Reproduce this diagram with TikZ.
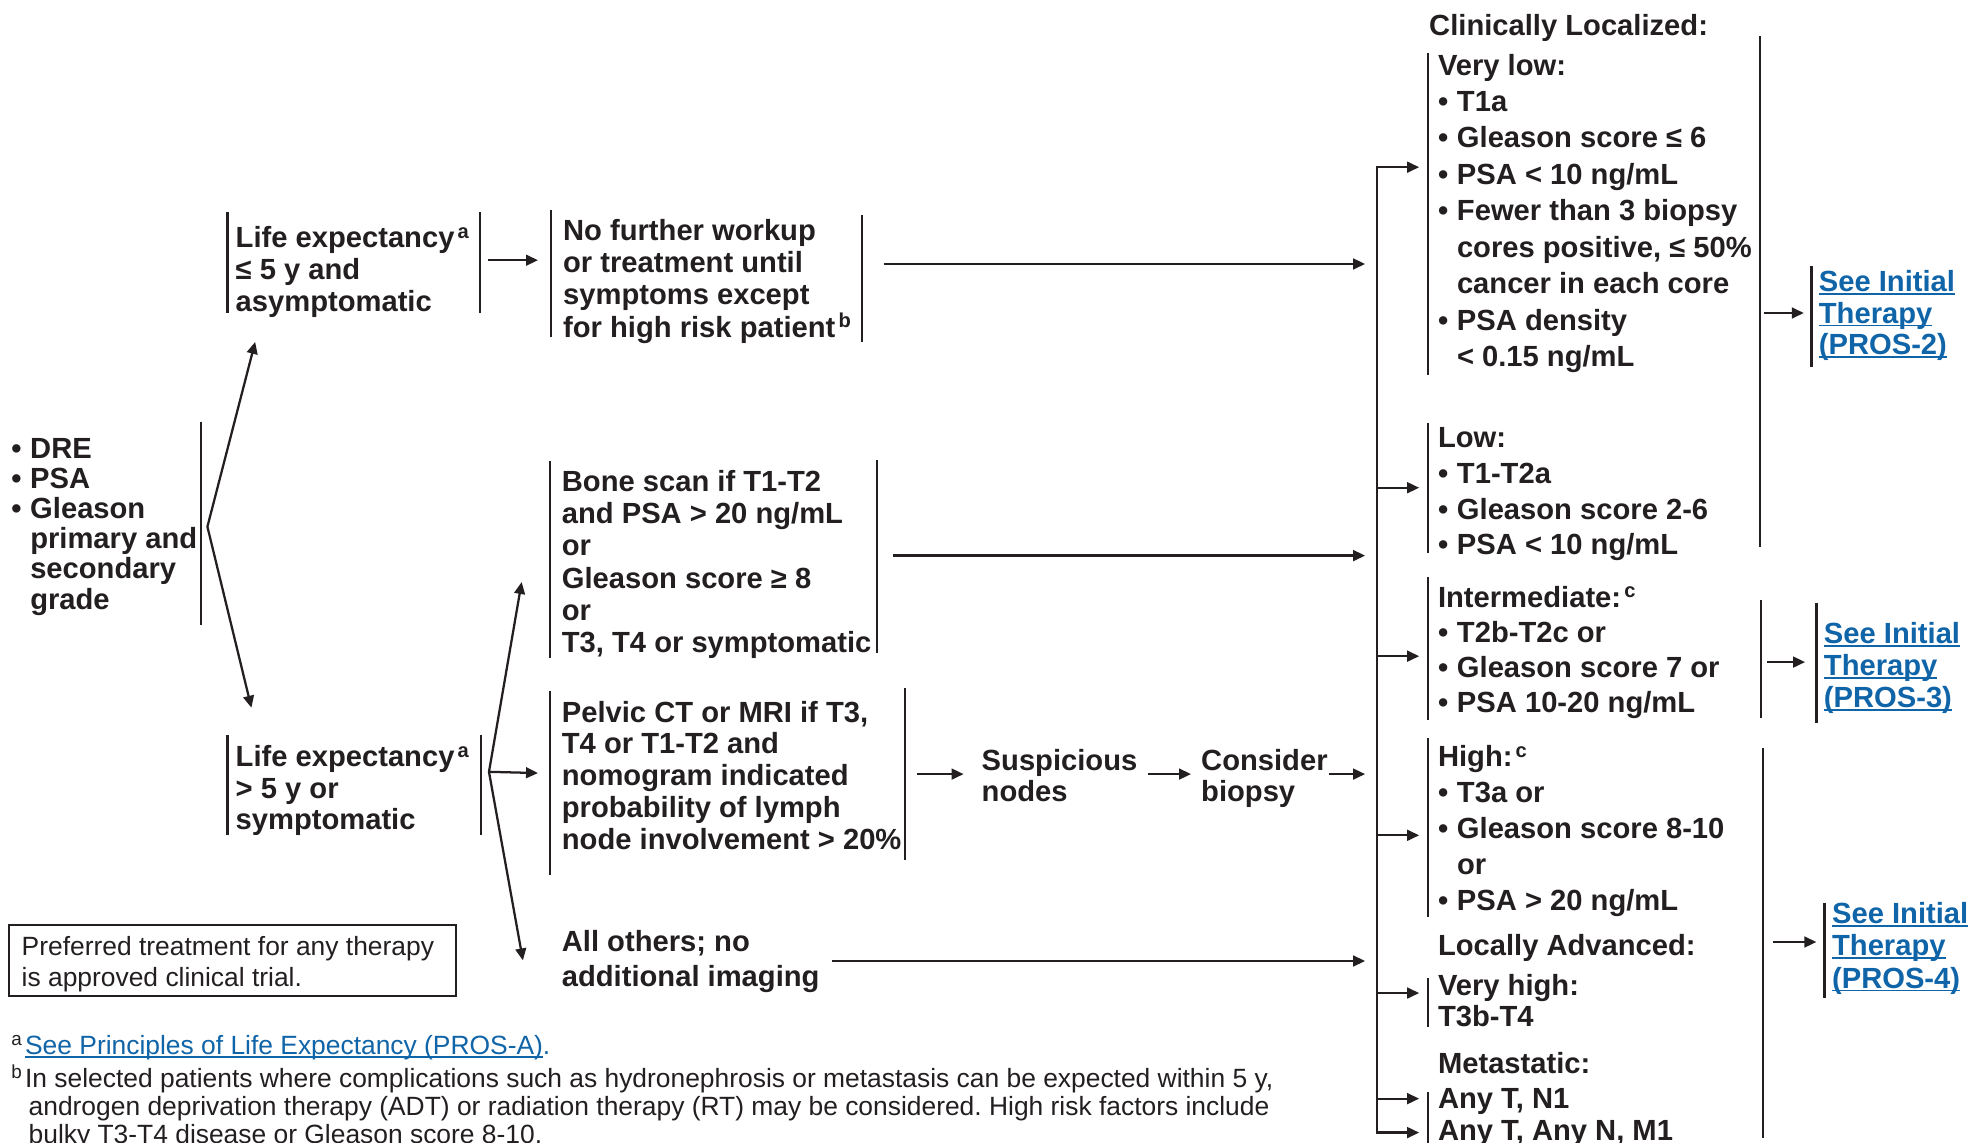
\documentclass[tikz,border=0pt]{standalone}
\usepackage{fontspec}
\setmainfont{Liberation Sans}
\usetikzlibrary{arrows.meta}
\definecolor{ink}{HTML}{231F20}
\definecolor{linkblue}{HTML}{1064A8}
\frenchspacing
\newcommand\mlines[1]{\begin{tabular}[t]{@{}l@{}}#1\end{tabular}}
\newcommand\bul{\makebox[0.65em][l]{•}}
\newcommand\indt{\hspace*{0.65em}}
\newcommand\supa[1]{\hspace{2.5bp}\smash{\raisebox{7.5bp}{\fontsize{16bp}{16bp}\selectfont #1}}}
\newcommand\supf[1]{\makebox[11bp][l]{\raisebox{7bp}{\fontsize{15bp}{15bp}\selectfont #1}}}
\newcommand\lnk[1]{{\setbox0\hbox{#1}\rlap{\rule[-2.6bp]{\wd0}{1.4bp}}\box0}}
\newcommand\fL{\fontsize{23.2bp}{25.5bp}\selectfont\bfseries}
\newcommand\fR{\fontsize{23.2bp}{28.7bp}\selectfont\bfseries}
\newcommand\fN{\fontsize{21bp}{22.5bp}\selectfont\mdseries}
\begin{document}
\begin{tikzpicture}[x=1bp,y=-1bp,
  txt/.style={inner sep=0pt, outer sep=0pt, anchor=base west, text=ink, font=\fL},
  rtxt/.style={txt, font=\fR},
  note/.style={txt, font=\fN},
  link/.style={txt, text=linkblue},
  bar/.style={draw=ink, line width=1.8bp},
  arr/.style={draw=ink, line width=1.8bp, -{Triangle[length=9.5bp,width=8.5bp]}},
  arr2/.style={draw=ink, line width=1.8bp, {Triangle[length=9.5bp,width=8.5bp]}-{Triangle[length=9.5bp,width=8.5bp]}}
]
\path[use as bounding box, fill=white] (0,0) rectangle (1568,909);

% ---------- left column ----------
\node[txt] (dre) at (9,364.5) {\fontsize{23.2bp}{24bp}\selectfont\mlines{\bul DRE\\\bul PSA\\\bul Gleason\\\indt primary and\\\indt secondary\\\indt grade}};
\draw[bar] (160,335.5) -- (160,497);
\coordinate (v1) at (165,419);
\coordinate (le1in) at (203,272);
\coordinate (le2in) at (200,563);
\draw[arr2] (le1in) -- (v1) -- (le2in);

% top life expectancy
\node[txt] (le1) at (187.5,197) {\mlines{Life expectancy\supa{a}\\≤ 5 y and\\asymptomatic}};
\draw[bar] (181,168.4) -- (181,249);
\draw[bar] (382,168.4) -- (382,249);
\coordinate (a1s) at (388,207); \coordinate (a1e) at (428,207);
\draw[arr] (a1s) -- (a1e);

\node[txt] (nf) at (448,191) {\fontsize{23.2bp}{25.7bp}\selectfont\mlines{No further workup\\or treatment until\\symptoms except\\for high risk patient\supa{b}}};
\draw[bar] (438.5,167) -- (438.5,268);
\draw[bar] (685.5,171) -- (685.5,272);
\coordinate (a2s) at (703,210); \coordinate (a2e) at (1086,210);
\draw[arr] (a2s) -- (a2e);

% bottom life expectancy
\node[txt] (le2) at (187.5,610) {\fontsize{23.2bp}{25bp}\selectfont\mlines{Life expectancy\supa{a}\\> 5 y or\\symptomatic}};
\draw[bar] (181,584.7) -- (181,664);
\draw[bar] (382.7,584.7) -- (382.7,664);
\coordinate (v2) at (389,614);
\coordinate (bsin) at (415,463);
\coordinate (pcin) at (428,615);
\coordinate (aoin) at (416,764);
\draw[arr2] (bsin) -- (v2) -- (aoin);
\draw[arr] (v2) -- (pcin);

% bone scan
\node[txt] (bs) at (447,391.3) {\mlines{Bone scan if T1-T2\\and PSA > 20 ng/mL\\or\\Gleason score ≥ 8\\or\\T3, T4 or symptomatic}};
\draw[bar] (437.5,367) -- (437.5,523.7);
\draw[bar] (697.5,366) -- (697.5,519.5);
\coordinate (a3s) at (710.5,442); \coordinate (a3e) at (1086,442);
\draw[arr] (a3s) -- (a3e);

% pelvic
\node[txt] (pc) at (447,574.4) {\fontsize{23.2bp}{25.4bp}\selectfont\mlines{Pelvic CT or MRI if T3,\\T4 or T1-T2 and\\nomogram indicated\\probability of lymph\\node involvement > 20\%}};
\draw[bar] (437.5,550) -- (437.5,696);
\draw[bar] (720,547.6) -- (720,684);
\coordinate (a4s) at (729.5,615.8); \coordinate (a4e) at (766.6,615.8);
\draw[arr] (a4s) -- (a4e);

\node[txt] (sn) at (781,612.6) {\fontsize{23.2bp}{25.2bp}\selectfont\mlines{Suspicious\\nodes}};
\coordinate (a5s) at (913,615.8); \coordinate (a5e) at (947.5,615.8);
\draw[arr] (a5s) -- (a5e);
\node[txt] (cb) at (955.6,612.6) {\fontsize{23.2bp}{25.2bp}\selectfont\mlines{Consider\\biopsy}};
\coordinate (a6s) at (1057,615.8); \coordinate (a6e) at (1086,615.8);
\draw[arr] (a6s) -- (a6e);

% all others
\node[txt] (ao) at (447,757) {\fontsize{23.2bp}{28bp}\selectfont\mlines{All others; no\\additional imaging}};
\coordinate (a7s) at (662,764.5); \coordinate (a7e) at (1086,764.5);
\draw[arr] (a7s) -- (a7e);

% preferred box
\draw[draw=ink, line width=1.8bp] (7,736) rectangle (363,792.4);
\node[note] (pref) at (17.3,760) {\fontsize{21bp}{25bp}\selectfont\mlines{Preferred treatment for any therapy\\is approved clinical trial.}};

% footnotes
\node[note] (fa) at (9,839) {\supf{a}\textcolor{linkblue}{\lnk{See Principles of Life Expectancy (PROS-A)}.}};
\node[note] (fb) at (9,865) {\mlines{\supf{b}In selected patients where complications such as hydronephrosis or metastasis can be expected within 5 y,\\\hspace*{13.8bp}androgen deprivation therapy (ADT) or radiation therapy (RT) may be considered. High risk factors include\\\hspace*{13.8bp}bulky T3-T4 disease or Gleason score 8-10.}};

% ---------- trunk ----------
\coordinate (ttop) at (1095.5,133);
\coordinate (tbot) at (1095.5,901);
\coordinate (vlin) at (1129,133);
\coordinate (m1in) at (1129,901);
\draw[arr2] (vlin) -- (ttop) -- (tbot) -- (m1in);
\foreach \yy/\nm in {388/lo,522/im,664.5/hi,790/vh,874/n1}{
  \coordinate (t\nm) at (1095.5,\yy);
  \coordinate (\nm in) at (1129,\yy);
  \draw[arr] (t\nm) -- (\nm in);
}

% ---------- right column ----------
\node[txt] (cl) at (1137,28) {Clinically Localized:};
\node[rtxt] (vl) at (1144,59.7) {\fontsize{23.2bp}{29bp}\selectfont\mlines{Very low:\\\bul T1a\\\bul Gleason score ≤ 6\\\bul PSA < 10 ng/mL\\\bul Fewer than 3 biopsy\\\indt cores positive, ≤ 50\%\\\indt cancer in each core\\\bul PSA density\\\indt < 0.15 ng/mL}};
\draw[bar] (1136,42) -- (1136,298);
\draw[bar] (1400,29) -- (1400,435);
\coordinate (p2s) at (1403,249); \coordinate (p2e) at (1435,249);
\draw[arr] (p2s) -- (p2e);
\draw[bar] (1441,212) -- (1441,292);
\node[link] (p2) at (1447,232) {\fontsize{23.2bp}{25bp}\selectfont\mlines{\lnk{See Initial}\\\lnk{Therapy}\\\lnk{(PROS-2)}}};

\node[rtxt] (lo) at (1144,356) {\fontsize{23.2bp}{28.5bp}\selectfont\mlines{Low:\\\bul T1-T2a\\\bul Gleason score 2-6\\\bul PSA < 10 ng/mL}};
\draw[bar] (1136,336.5) -- (1136,440);

\node[rtxt] (im) at (1144,483) {\fontsize{23.2bp}{28bp}\selectfont\mlines{Intermediate:\supa{c}\\\bul T2b-T2c or\\\bul Gleason score 7 or\\\bul PSA 10-20 ng/mL}};
\draw[bar] (1136,459) -- (1136,573);
\draw[bar] (1401,477) -- (1401,571);
\coordinate (p3s) at (1406,526.7); \coordinate (p3e) at (1436,526.7);
\draw[arr] (p3s) -- (p3e);
\draw[bar] (1445,480) -- (1445,575);
\node[link] (p3) at (1451,512) {\fontsize{23.2bp}{25.5bp}\selectfont\mlines{\lnk{See Initial}\\\lnk{Therapy}\\\lnk{(PROS-3)}}};

\node[rtxt] (hi) at (1144,610) {\fontsize{23.2bp}{28.5bp}\selectfont\mlines{High:\supa{c}\\\bul T3a or\\\bul Gleason score 8-10\\\indt or\\\bul PSA > 20 ng/mL}};
\draw[bar] (1136,587) -- (1136,729.5);
\node[txt] (la) at (1144,760) {Locally Advanced:};
\node[txt] (vh) at (1144,791.6) {\fontsize{23.2bp}{25.4bp}\selectfont\mlines{Very high:\\T3b-T4}};
\draw[bar] (1136,778) -- (1136,817);
\node[txt] (me) at (1144,854) {Metastatic:};
\node[txt] (an) at (1144,881.5) {\fontsize{23.2bp}{25.5bp}\selectfont\mlines{Any T, N1\\Any T, Any N, M1}};
\draw[bar] (1136,868.7) -- (1136,912);
\draw[bar] (1402.6,595) -- (1402.6,905);
\coordinate (p4s) at (1410.5,749.4); \coordinate (p4e) at (1445,749.4);
\draw[arr] (p4s) -- (p4e);
\draw[bar] (1451.5,718) -- (1451.5,794);
\node[link] (p4) at (1457.5,734.5) {\fontsize{23.2bp}{25.8bp}\selectfont\mlines{\lnk{See Initial}\\\lnk{Therapy}\\\lnk{(PROS-4)}}};
\end{tikzpicture}
\end{document}
